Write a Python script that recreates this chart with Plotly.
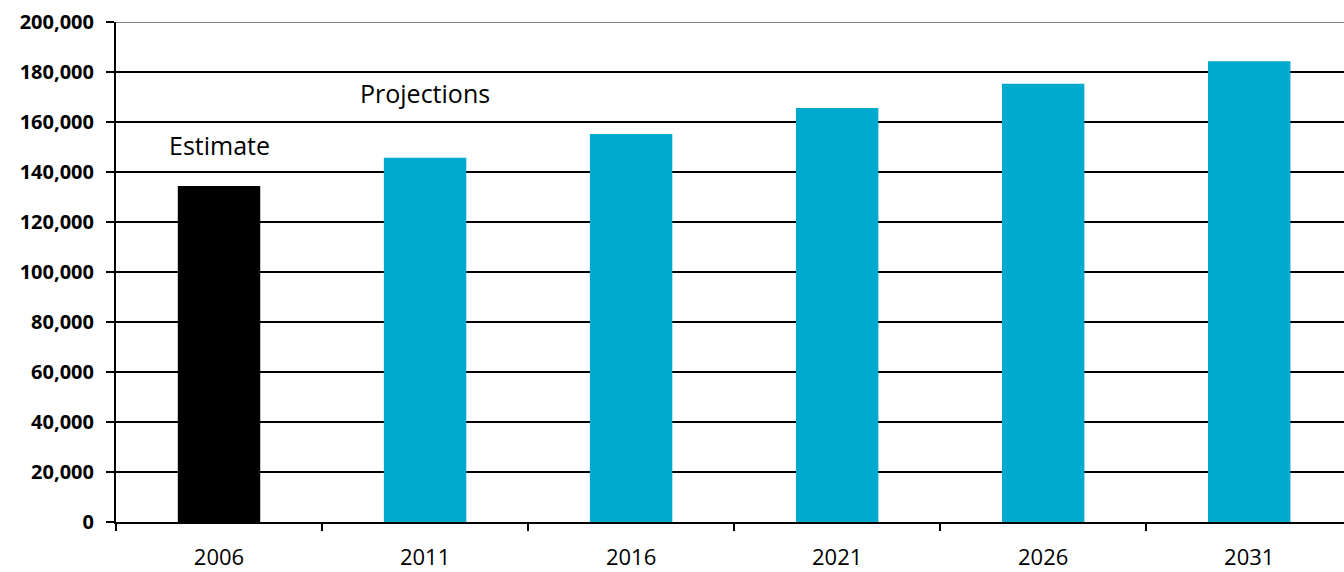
import plotly.graph_objects as go

# Population estimate (2006) and projections (2011-2031)
years = ["2006", "2011", "2016", "2021", "2026", "2031"]
population = [134400, 145700, 155200, 165600, 175300, 184300]
bar_colors = ["#000000", "#00AACE", "#00AACE", "#00AACE", "#00AACE", "#00AACE"]

y_ticks = list(range(0, 200001, 20000))
y_ticktext = [f"{v:,}" for v in y_ticks]

fig = go.Figure()
fig.add_trace(go.Bar(
    x=years,
    y=population,
    width=0.4,
    marker=dict(color=bar_colors, line=dict(width=0)),
    hoverinfo="x+y",
))

# labels above the first two bars (category index positions)
fig.add_annotation(x=0, y=150800, text="Estimate", showarrow=False,
                   font=dict(family="Open Sans", size=25, color="#000000"))
fig.add_annotation(x=1, y=171600, text="Projections", showarrow=False,
                   font=dict(family="Open Sans", size=25, color="#000000"))

# grey line along the top of the plot area
fig.add_shape(type="line", xref="paper", yref="y", x0=0, x1=1, y0=200000, y1=200000,
              line=dict(color="#808080", width=2))

fig.update_layout(
    width=1344, height=572,
    margin=dict(l=116, r=0, t=22, b=50),
    paper_bgcolor="white", plot_bgcolor="white",
    showlegend=False,
    bargap=0.6,
    xaxis=dict(
        type="category",
        range=[-0.5, 5.46],
        automargin=False,
        tickson="boundaries",
        ticks="outside", ticklen=7, tickwidth=1.5, tickcolor="#000000",
        showline=True, linecolor="#000000", linewidth=1.5,
        showgrid=False,
        ticklabelstandoff=15,
        tickfont=dict(family="Open Sans", size=22, color="#000000"),
    ),
    yaxis=dict(
        range=[0, 200000],
        automargin=False,
        tickvals=y_ticks, ticktext=y_ticktext,
        ticks="outside", ticklen=8, tickwidth=1.5, tickcolor="#000000",
        showline=True, linecolor="#000000", linewidth=2,
        showgrid=True, gridcolor="#000000", gridwidth=2,
        zeroline=False,
        ticklabelstandoff=8,
        tickfont=dict(family="Open Sans", size=20, color="#000000", weight="bold"),
    ),
)

fig.write_html("out.html")
